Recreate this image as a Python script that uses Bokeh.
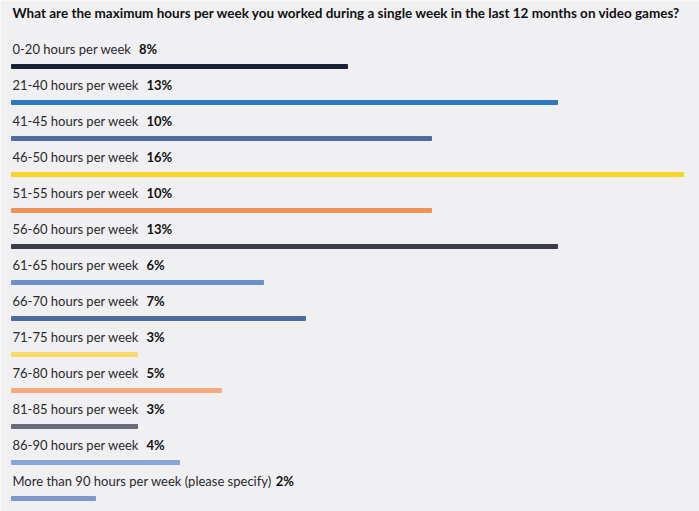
from bokeh.plotting import figure
from bokeh.models import Range1d, Label, ColumnDataSource
from bokeh.embed import file_html
from bokeh.resources import INLINE

title = "What are the maximum hours per week you worked during a single week in the last 12 months on video games?"
categories = ["0-20 hours per week", "21-40 hours per week", "41-45 hours per week",
              "46-50 hours per week", "51-55 hours per week", "56-60 hours per week",
              "61-65 hours per week", "66-70 hours per week", "71-75 hours per week",
              "76-80 hours per week", "81-85 hours per week", "86-90 hours per week",
              "More than 90 hours per week (please specify)"]
values = [8, 13, 10, 16, 10, 13, 6, 7, 3, 5, 3, 4, 2]
colors = ["#1b2134", "#2b79c1", "#4f6b9f", "#f7d42a", "#ef9456", "#3b3d49",
          "#6b90c9", "#4f6a9c", "#f8dc6a", "#f5a97a", "#686a78", "#8aa6d9", "#7f97c7"]

W, H = 699, 511
PX_PER_PCT = 42.0
X0 = 11.0      # frame px of value 0
ROW = 36.0     # px between rows
Y0 = 66.0      # frame px of first bar centre
FS = 13
TEXT_GAP = 18.0

# approximate Lato regular advance widths (em)
cw = {" ": 0.193, "-": 0.33, "(": 0.30, ")": 0.30}
for d in "0123456789":
    cw[d] = 0.58
cw.update({"a": 0.49, "c": 0.45, "e": 0.52, "f": 0.33, "h": 0.56, "i": 0.24, "k": 0.50,
           "l": 0.24, "n": 0.56, "o": 0.56, "p": 0.55, "r": 0.37, "s": 0.42, "t": 0.35,
           "u": 0.56, "w": 0.78, "y": 0.50, "M": 0.90})
def twidth(s):
    return sum(cw.get(c, 0.55) for c in s) * FS

rows = list(range(len(categories)))
pct_labels = [f"{v}%" for v in values]
label_off = 1.0 / PX_PER_PCT
pct_x = [label_off + (twidth(c) + 11) / PX_PER_PCT for c in categories]
text_y = [r - TEXT_GAP / ROW for r in rows]

src = ColumnDataSource(dict(cat=categories, val=values, col=colors, row=rows,
                            pct=pct_labels, pct_x=pct_x, ty=text_y,
                            lx=[label_off] * len(rows)))

p = figure(width=W, height=H, output_backend="svg", toolbar_location=None,
           x_range=Range1d(-X0 / PX_PER_PCT, (W - X0) / PX_PER_PCT),
           y_range=Range1d((H - Y0) / ROW, -Y0 / ROW),
           min_border=0, background_fill_color="#f0f0f2", border_fill_color="#f0f0f2",
           outline_line_color=None)
p.xaxis.visible = False
p.yaxis.visible = False
p.grid.visible = False

p.hbar(y="row", left=0, right="val", height=4.0 / ROW, color="col", source=src)
p.text(x="lx", y="ty", text="cat", text_font={"value": "Lato"}, text_font_size=f"{FS}px",
       text_color="#2a2a2a", text_baseline="middle", source=src)
p.text(x="pct_x", y="ty", text="pct", text_font={"value": "Lato"}, text_font_size=f"{FS}px",
       text_font_style="bold", text_color="#111111", text_baseline="middle", source=src)

p.add_layout(Label(x=12, y=H - 12, x_units="screen", y_units="screen", text=title,
                   text_font="Lato", text_font_size="13.5px", text_font_style="bold",
                   text_color="#111111", text_baseline="middle"))

open("out.html", "w").write(file_html(p, INLINE))
